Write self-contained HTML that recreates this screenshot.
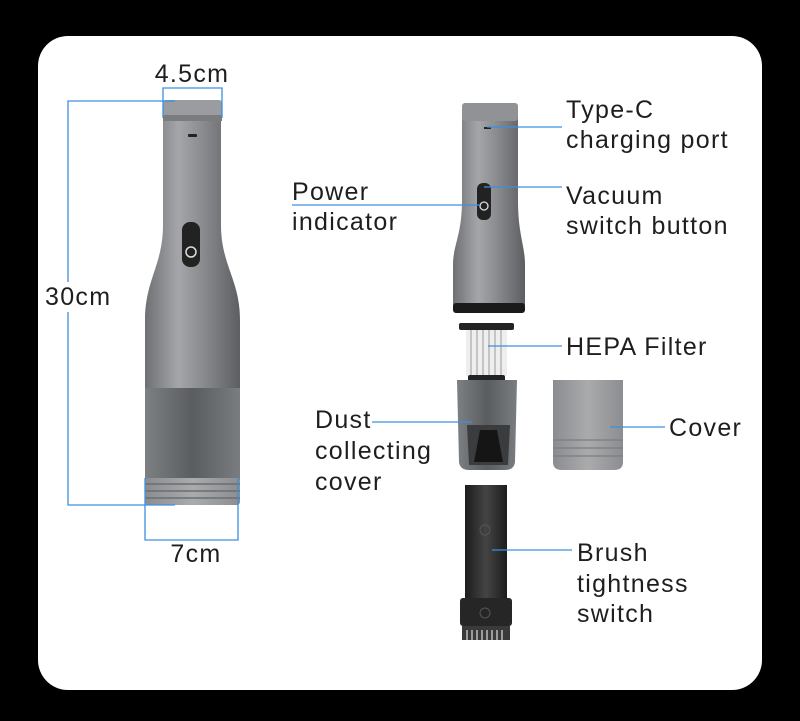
<!DOCTYPE html>
<html><head><meta charset="utf-8"><style>
html,body{margin:0;padding:0;background:#000;width:800px;height:721px;overflow:hidden}
svg{display:block}
text{font-family:"Liberation Sans",sans-serif;font-size:25px;fill:#1e1e1e;letter-spacing:1.3px}
</style></head><body>
<svg width="800" height="721" viewBox="0 0 800 721">
<defs>
<linearGradient id="sil" x1="0" x2="1">
<stop offset="0" stop-color="#6e7073"/><stop offset="0.35" stop-color="#a4a6a9"/><stop offset="0.6" stop-color="#8a8c8f"/><stop offset="1" stop-color="#5c5e61"/></linearGradient>
<linearGradient id="clr" x1="0" x2="1">
<stop offset="0" stop-color="#7d8083"/><stop offset="0.5" stop-color="#5a5d60"/><stop offset="1" stop-color="#7a7d80"/></linearGradient>
<linearGradient id="clr2" x1="0" x2="1">
<stop offset="0" stop-color="#8a8c8f"/><stop offset="0.5" stop-color="#a9abad"/><stop offset="1" stop-color="#8b8d90"/></linearGradient>
<linearGradient id="blk" x1="0" x2="1">
<stop offset="0" stop-color="#1c1c1c"/><stop offset="0.5" stop-color="#444"/><stop offset="1" stop-color="#1c1c1c"/></linearGradient>
</defs>
<rect x="38" y="36" width="724" height="654" rx="30" fill="#fff"/>

<path d="M163,118 L221,118 L221,225 C221,265 240,280 240,320 L240,388 L145,388 L145,320 C145,280 163,265 163,225 Z" fill="url(#sil)"/>
<rect x="163" y="100" width="59" height="20" rx="3" fill="#9a9c9f"/>
<rect x="163" y="115" width="59" height="6" fill="#7a7c7f"/>
<rect x="188" y="134" width="9" height="3" rx="1" fill="#222"/>
<rect x="182" y="222" width="18" height="45" rx="8" fill="#222"/>
<circle cx="191" cy="252" r="5" fill="none" stroke="#ddd" stroke-width="1.5"/>
<rect x="145" y="388" width="95" height="92" fill="url(#clr)"/>
<rect x="145" y="478" width="95" height="27" rx="3" fill="url(#clr2)"/>
<g stroke="#6b6e71" stroke-width="1.5"><line x1="145" y1="484" x2="240" y2="484"/><line x1="145" y1="491" x2="240" y2="491"/><line x1="145" y1="498" x2="240" y2="498"/></g>

<g stroke="#3d8fe0" stroke-width="1.3" fill="none">
<path d="M175,101 L68,101 L68,282"/><path d="M68,312 L68,505 L175,505"/>
<path d="M163,118 L163,88 L222,88 L222,118"/>
<path d="M145,478 L145,540 L238,540 L238,478"/>
</g>
<text x="192" y="82" text-anchor="middle">4.5cm</text>
<text x="45" y="305">30cm</text>
<text x="196" y="562" text-anchor="middle">7cm</text>

<path d="M462,110 L518,110 L518,200 C518,235 525,245 525,265 L525,305 L453,305 L453,265 C453,245 462,235 462,200 Z" fill="url(#sil)"/>
<rect x="462" y="103" width="56" height="18" rx="3" fill="#909295"/>
<rect x="484" y="127" width="7" height="2" fill="#222"/>
<rect x="477" y="183" width="14" height="37" rx="6" fill="#222"/>
<circle cx="484" cy="206" r="4" fill="none" stroke="#ddd" stroke-width="1.3"/>
<rect x="453" y="303" width="72" height="10" rx="3" fill="#1a1a1a"/>
<rect x="459" y="323" width="55" height="7" rx="2" fill="#222"/>
<rect x="466" y="330" width="41" height="46" fill="#eee"/>
<g stroke="#999" stroke-width="1"><line x1="471" y1="330" x2="471" y2="376"/><line x1="477" y1="330" x2="477" y2="376"/><line x1="483" y1="330" x2="483" y2="376"/><line x1="489" y1="330" x2="489" y2="376"/><line x1="495" y1="330" x2="495" y2="376"/><line x1="501" y1="330" x2="501" y2="376"/></g>
<rect x="468" y="375" width="37" height="7" rx="2" fill="#222"/>
<path d="M457,380 L517,380 L515,462 Q514,470 505,470 L469,470 Q460,470 459,462 Z" fill="url(#clr)"/>
<path d="M467,425 L510,425 L508,465 L469,465 Z" fill="#3a3c3e"/>
<path d="M480,430 L497,430 L503,462 L474,462 Z" fill="#151515"/>
<path d="M553,380 L623,380 L623,462 Q623,470 614,470 L562,470 Q553,470 553,462 Z" fill="url(#clr2)"/>
<g stroke="#7b7d80" stroke-width="1.2"><line x1="553" y1="440" x2="623" y2="440"/><line x1="553" y1="448" x2="623" y2="448"/><line x1="553" y1="456" x2="623" y2="456"/></g>
<rect x="465" y="485" width="42" height="115" fill="url(#blk)"/>
<rect x="460" y="598" width="52" height="28" rx="3" fill="#262626"/>
<circle cx="485" cy="530" r="5" fill="none" stroke="#555"/>
<circle cx="485" cy="613" r="5" fill="none" stroke="#555"/>
<rect x="462" y="626" width="48" height="14" fill="#3a3a3a"/>
<g stroke="#fff" stroke-width="1"><line x1="467" y1="630" x2="467" y2="640"/><line x1="472" y1="630" x2="472" y2="640"/><line x1="477" y1="630" x2="477" y2="640"/><line x1="482" y1="630" x2="482" y2="640"/><line x1="487" y1="630" x2="487" y2="640"/><line x1="492" y1="630" x2="492" y2="640"/><line x1="497" y1="630" x2="497" y2="640"/><line x1="502" y1="630" x2="502" y2="640"/></g>

<g stroke="#3d8fe0" stroke-width="1.3">
<line x1="487" y1="127" x2="562" y2="127"/>
<line x1="484" y1="187" x2="562" y2="187"/>
<line x1="292" y1="205" x2="480" y2="205"/>
<line x1="488" y1="346" x2="562" y2="346"/>
<line x1="372" y1="422" x2="472" y2="422"/>
<line x1="610" y1="427" x2="665" y2="427"/>
<line x1="492" y1="550" x2="572" y2="550"/>
</g>
<text x="566" y="118">Type-C</text>
<text x="566" y="148">charging port</text>
<text x="566" y="204">Vacuum</text>
<text x="566" y="234">switch button</text>
<text x="292" y="200">Power</text>
<text x="292" y="230">indicator</text>
<text x="566" y="355">HEPA Filter</text>
<text x="315" y="428">Dust</text>
<text x="315" y="459">collecting</text>
<text x="315" y="490">cover</text>
<text x="669" y="436">Cover</text>
<text x="577" y="561">Brush</text>
<text x="577" y="592">tightness</text>
<text x="577" y="622">switch</text>
</svg>
</body></html>
